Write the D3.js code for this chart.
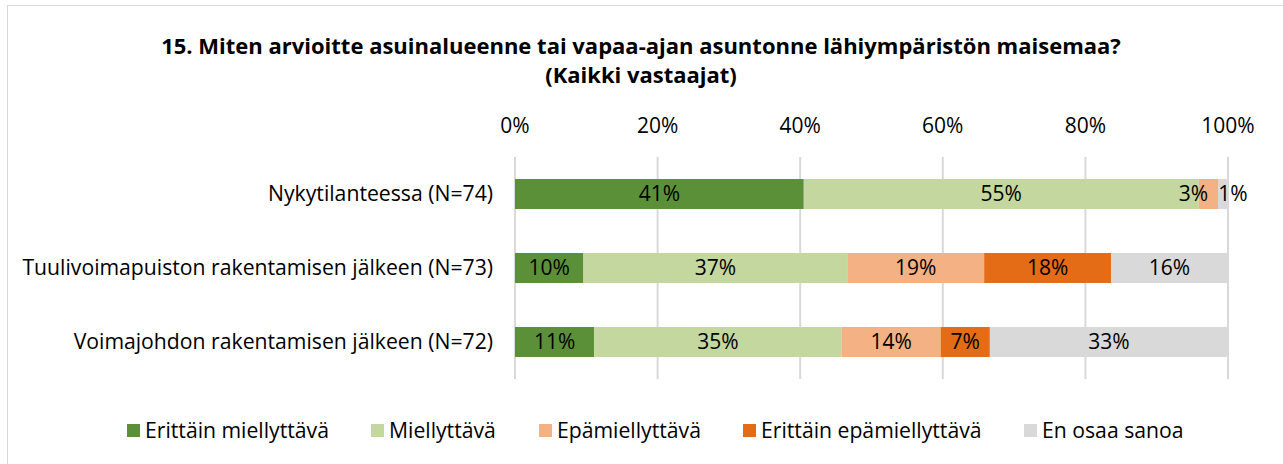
<!doctype html>
<html>
<head>
<meta charset="utf-8">
<title>Maisema</title>
<script src="https://d3js.org/d3.v7.min.js"></script>
<style>
  body { margin: 0; background: #fff; }
  text { font-family: "Open Sans", sans-serif; fill: #000; }
</style>
</head>
<body>
<svg width="1283" height="464"></svg>
<script>
// categories (rows, top to bottom)
const categories = [
    "Nykytilanteessa (N=74)",
    "Tuulivoimapuiston rakentamisen jälkeen (N=73)",
    "Voimajohdon rakentamisen jälkeen (N=72)"
];
// series names (legend order)
const seriesNames = ["Erittäin miellyttävä", "Miellyttävä", "Epämiellyttävä", "Erittäin epämiellyttävä", "En osaa sanoa"];
// percentage values per series, one per row
const erittainMiellyttava = [40.5, 9.6, 11.1];
const miellyttava = [55.4, 37.0, 34.7];
const epamiellyttava = [2.7, 19.2, 13.9];
const erittainEpamiellyttava = [0, 17.8, 6.9];
const enOsaa = [1.4, 16.4, 33.4];
const tickValues = [0, 20, 40, 60, 80, 100];

const colors = ["#5b9039", "#c4d79f", "#f4b183", "#e46c17", "#d9d9d9"];

const svg = d3.select("svg");

// outer chart border
svg.append("rect")
    .attr("x", 7.5).attr("y", 5.5)
    .attr("width", 1300).attr("height", 480)
    .attr("fill", "none").attr("stroke", "#d9d9d9");

// title
const title = svg.append("text")
    .attr("text-anchor", "middle")
    .attr("font-size", "22px")
    .attr("font-weight", "bold");
title.append("tspan").attr("x", 641).attr("y", 54)
    .text("15. Miten arvioitte asuinalueenne tai vapaa-ajan asuntonne lähiympäristön maisemaa?");
title.append("tspan").attr("x", 641).attr("y", 83)
    .text("(Kaikki vastaajat)");

const x = d3.scaleLinear().domain([0, 100]).range([515, 1228]);
const y = d3.scaleBand().domain(categories).range([157, 379])
    .paddingInner(0.595).paddingOuter(0.2975);

// gridlines
svg.append("g").selectAll("line")
    .data(tickValues)
    .enter().append("line")
    .attr("x1", d => x(d)).attr("x2", d => x(d))
    .attr("y1", 157).attr("y2", 379)
    .attr("stroke", "#d9d9d9").attr("stroke-width", 2);

// top axis labels
svg.append("g").selectAll("text")
    .data(tickValues)
    .enter().append("text")
    .attr("x", d => x(d)).attr("y", 133)
    .attr("text-anchor", "middle")
    .attr("font-size", "21px")
    .text(d => d + "%");

// category labels
svg.append("g").selectAll("text")
    .data(categories)
    .enter().append("text")
    .attr("x", 493)
    .attr("y", d => y(d) + y.bandwidth() / 2)
    .attr("dy", "0.35em")
    .attr("text-anchor", "end")
    .attr("font-size", "21.2px")
    .text(d => d);

// stack the data
const allSeries = [erittainMiellyttava, miellyttava, epamiellyttava, erittainEpamiellyttava, enOsaa];
const rows = categories.map((c, i) => {
    const r = { cat: c };
    seriesNames.forEach((s, j) => { r[s] = allSeries[j][i]; });
    return r;
});
const stacked = d3.stack().keys(seriesNames)(rows);

const layer = svg.append("g").selectAll("g")
    .data(stacked)
    .enter().append("g")
    .attr("fill", (d, i) => colors[i]);

layer.selectAll("rect")
    .data(d => d.filter(p => p[1] - p[0] > 0))
    .enter().append("rect")
    .attr("x", d => x(d[0]))
    .attr("y", d => y(d.data.cat))
    .attr("width", d => x(d[1]) - x(d[0]))
    .attr("height", y.bandwidth());

// data labels (small first-row segments nudged apart like in the original)
layer.each(function(s, si) {
    d3.select(this).selectAll("text")
        .data(s.filter(p => p[1] - p[0] > 0))
        .enter().append("text")
        .attr("x", (d, i) => {
            let cx = (x(d[0]) + x(d[1])) / 2;
            if (d.data.cat === categories[0] && si === 2) cx -= 15;
            if (d.data.cat === categories[0] && si === 4) cx += 10;
            return cx;
        })
        .attr("y", d => y(d.data.cat) + y.bandwidth() / 2)
        .attr("dy", "0.35em")
        .attr("text-anchor", "middle")
        .attr("font-size", "21px")
        .text(d => Math.round(d[1] - d[0]) + "%");
});

// legend
const legendX = [127, 371, 539, 743, 1024];
const legend = svg.append("g").selectAll("g")
    .data(seriesNames)
    .enter().append("g")
    .attr("transform", (d, i) => "translate(" + legendX[i] + ",424)");
legend.append("rect")
    .attr("width", 13).attr("height", 13)
    .attr("fill", (d, i) => colors[i]);
legend.append("text")
    .attr("x", 18).attr("y", 6.5)
    .attr("dy", "0.35em")
    .attr("font-size", "21.2px")
    .text(d => d);
</script>
</body>
</html>
